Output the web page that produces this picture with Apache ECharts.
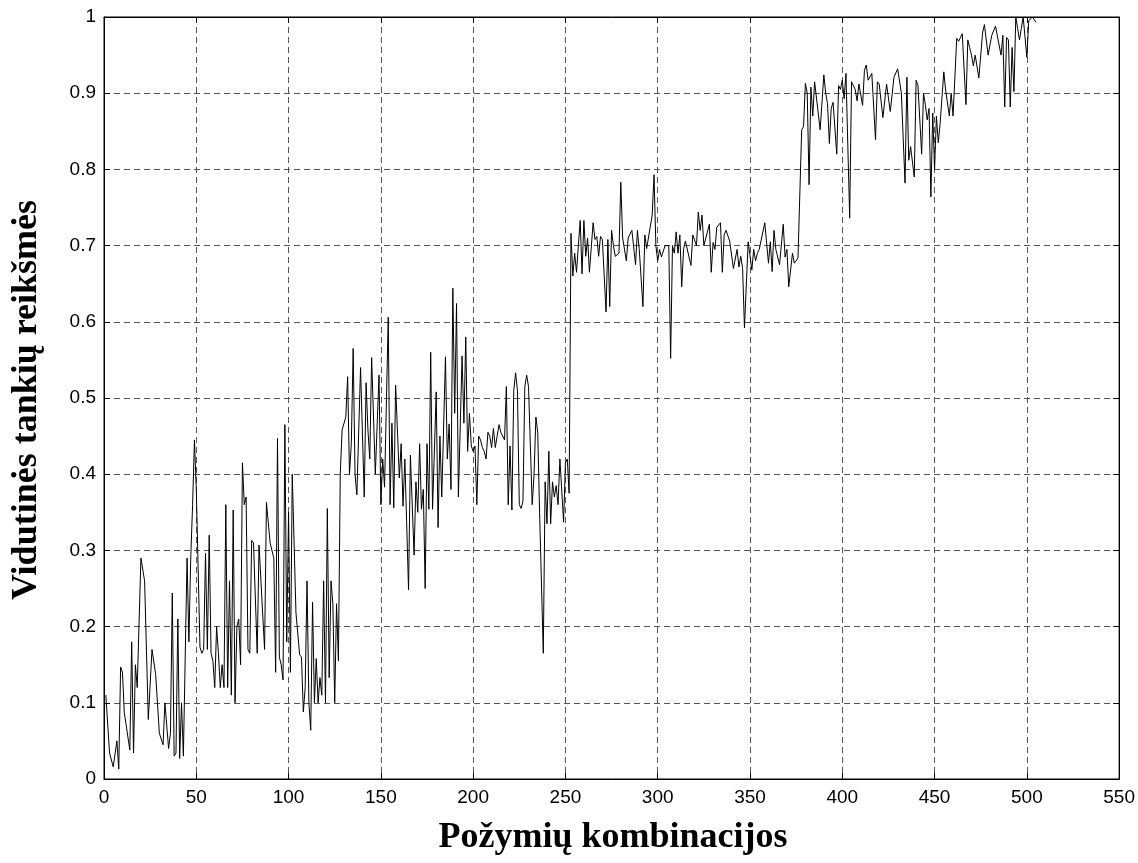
<!DOCTYPE html>
<html>
<head>
<meta charset="utf-8">
<script src="https://cdn.jsdelivr.net/npm/echarts@6/dist/echarts.min.js"></script>
<style>
html,body{margin:0;padding:0;background:#fff;}
#chart{width:1138px;height:863px;}
</style>
</head>
<body>
<div id="chart"></div>
<script>
// [combination index, mean density value]
var values0_100 = [[1,0.11],[3,0.034],[5,0.016],[7,0.05],[8,0.013],[9,0.147],[10,0.14],[11,0.087],[14,0.038],[15,0.18],[16,0.034],[17,0.15],[18,0.12],[20,0.29],[21,0.29],[22,0.26],[24,0.078],[26,0.17],[28,0.137],[30,0.06],[32,0.045],[33,0.10],[35,0.04],[36,0.06],[37,0.244],[38,0.03],[39,0.034],[40,0.21],[41,0.027],[42,0.1],[43,0.03],[45,0.29],[46,0.18],[47,0.29],[48,0.36],[49,0.445],[50,0.38],[52,0.173],[53,0.165],[54,0.17],[55,0.296],[56,0.17],[57,0.32],[58,0.165],[59,0.155],[60,0.12],[61,0.2],[62,0.165],[63,0.12],[64,0.15],[65,0.12],[66,0.36],[67,0.12],[68,0.26],[69,0.11],[70,0.353],[71,0.1],[72,0.2],[73,0.21],[74,0.15],[75,0.415],[76,0.36],[77,0.37],[78,0.17],[79,0.165],[80,0.313],[81,0.31],[83,0.165],[84,0.307],[85,0.307],[87,0.17],[88,0.363],[90,0.31],[91,0.31],[92,0.29],[93,0.14],[94,0.447],[95,0.16],[96,0.15],[97,0.13],[98,0.465],[99,0.18]];
var values100_200 = [[100,0.35],[101,0.14],[102,0.40],[104,0.218],[106,0.163],[107,0.16],[108,0.088],[109,0.12],[110,0.26],[111,0.1],[112,0.064],[113,0.232],[114,0.1],[115,0.158],[116,0.1],[117,0.133],[118,0.11],[119,0.26],[120,0.1],[121,0.355],[122,0.133],[123,0.26],[124,0.23],[125,0.1],[126,0.23],[127,0.155],[128,0.40],[129,0.458],[131,0.475],[132,0.528],[133,0.40],[134,0.44],[135,0.565],[136,0.40],[137,0.373],[139,0.54],[141,0.37],[142,0.52],[143,0.458],[144,0.42],[145,0.553],[147,0.40],[148,0.40],[149,0.53],[150,0.36],[151,0.42],[152,0.383],[154,0.606],[155,0.36],[156,0.467],[157,0.356],[158,0.517],[160,0.395],[161,0.44],[162,0.358],[163,0.42],[165,0.248],[166,0.425],[168,0.294],[169,0.39],[170,0.35],[171,0.44],[172,0.354],[173,0.38],[174,0.25],[175,0.44],[176,0.354],[177,0.56],[178,0.354],[180,0.508],[181,0.33],[182,0.45],[183,0.37],[185,0.554],[186,0.42],[187,0.466],[188,0.38],[189,0.644],[190,0.48],[191,0.624],[192,0.37],[194,0.555],[195,0.467],[196,0.58],[197,0.43],[198,0.48],[199,0.437]];
var values200_300 = [[200,0.43],[201,0.437],[202,0.36],[203,0.45],[204,0.445],[205,0.435],[206,0.43],[207,0.42],[208,0.455],[209,0.45],[210,0.435],[211,0.46],[212,0.435],[213,0.435],[214,0.465],[215,0.455],[217,0.445],[218,0.515],[219,0.36],[220,0.437],[221,0.353],[222,0.51],[223,0.533],[224,0.51],[225,0.36],[226,0.355],[227,0.365],[228,0.515],[229,0.53],[230,0.515],[232,0.36],[233,0.4],[234,0.475],[235,0.455],[236,0.35],[238,0.165],[239,0.39],[240,0.335],[241,0.43],[242,0.335],[243,0.39],[244,0.37],[245,0.385],[246,0.36],[247,0.42],[248,0.42],[249,0.337],[250,0.415],[251,0.42],[252,0.375],[253,0.716],[254,0.66],[255,0.69],[256,0.665],[257,0.70],[258,0.733],[259,0.663],[260,0.733],[261,0.686],[262,0.71],[263,0.665],[265,0.73],[266,0.708],[267,0.712],[268,0.686],[269,0.712],[270,0.708],[272,0.613],[273,0.708],[274,0.62],[275,0.72],[276,0.70],[277,0.686],[279,0.69],[280,0.783],[281,0.71],[283,0.68],[284,0.71],[286,0.72],[288,0.675],[289,0.72],[290,0.695],[292,0.62],[293,0.714],[294,0.696],[295,0.695],[297,0.74],[298,0.793],[299,0.70]];
var values300_400 = [[300,0.68],[301,0.695],[302,0.685],[304,0.70],[306,0.70],[307,0.552],[308,0.70],[309,0.69],[310,0.718],[311,0.69],[312,0.714],[313,0.646],[314,0.695],[315,0.706],[318,0.674],[319,0.714],[321,0.70],[322,0.744],[323,0.72],[324,0.74],[325,0.70],[328,0.728],[329,0.665],[330,0.704],[331,0.695],[332,0.724],[334,0.73],[335,0.665],[336,0.714],[337,0.72],[339,0.706],[341,0.67],[343,0.695],[344,0.672],[345,0.686],[346,0.67],[347,0.592],[349,0.705],[351,0.668],[352,0.695],[353,0.68],[354,0.69],[355,0.695],[358,0.73],[360,0.677],[361,0.705],[362,0.666],[363,0.72],[364,0.695],[366,0.675],[368,0.728],[369,0.685],[370,0.695],[371,0.646],[373,0.69],[374,0.677],[375,0.68],[376,0.684],[378,0.852],[379,0.856],[380,0.913],[381,0.9],[382,0.78],[383,0.908],[384,0.87],[385,0.915],[386,0.913],[388,0.852],[389,0.85],[390,0.924],[391,0.9],[392,0.886],[393,0.834],[394,0.88],[395,0.888],[397,0.82],[398,0.91],[399,0.905]];
var values400_505 = [[400,0.917],[401,0.893],[402,0.926],[403,0.928],[404,0.736],[405,0.915],[406,0.91],[407,0.905],[408,0.89],[409,0.912],[411,0.884],[412,0.93],[413,0.937],[414,0.917],[416,0.926],[418,0.839],[419,0.915],[420,0.912],[422,0.868],[424,0.912],[426,0.876],[428,0.921],[430,0.932],[432,0.9],[434,0.782],[435,0.921],[436,0.812],[437,0.83],[439,0.79],[440,0.917],[441,0.91],[443,0.82],[444,0.9],[445,0.885],[446,0.865],[447,0.88],[448,0.764],[449,0.874],[450,0.80],[451,0.87],[452,0.835],[453,0.86],[455,0.928],[456,0.904],[458,0.87],[459,0.9],[460,0.87],[462,0.972],[463,0.968],[465,0.978],[466,0.976],[467,0.885],[468,0.97],[469,0.96],[470,0.95],[471,0.936],[472,0.95],[473,0.95],[474,0.92],[475,0.92],[476,0.979],[477,0.99],[479,0.95],[481,0.976],[483,0.988],[486,0.95],[487,0.976],[488,0.882],[489,0.973],[490,0.97],[491,0.882],[492,0.96],[493,0.902],[494,1.0],[495,0.985],[496,0.97],[497,0.985],[498,1.0],[500,0.947],[501,0.995],[503,1.0],[505,0.993]];

var xTitle = 'Požymių kombinacijos';
var yTitle = 'Vidutinės tankių reikšmės';

var seriesData = [].concat(values0_100, values100_200, values200_300, values300_400, values400_505);

var chart = echarts.init(document.getElementById('chart'), null, {renderer: 'canvas'});
var labelFont = {color: '#000', fontSize: 19, fontFamily: 'Liberation Sans, Arial, sans-serif'};
var gridLine = {show: true, lineStyle: {color: '#555', width: 1, type: [6, 4]}};
var tick = {show: true, inside: true, length: 6, lineStyle: {color: '#000'}};
var titleFont = 'bold 36px "Liberation Serif", "Times New Roman", serif';
var option = {
  animation: false,
  backgroundColor: '#fff',
  grid: {left: 104, right: 15, top: 17, bottom: 84, show: true, borderColor: '#000', borderWidth: 1, backgroundColor: 'transparent'},
  xAxis: [
    {type: 'value', min: 0, max: 550, interval: 50, position: 'bottom',
     axisLine: {show: true, onZero: false, lineStyle: {color: '#000'}},
     axisTick: tick, splitLine: gridLine,
     axisLabel: Object.assign({margin: 9}, labelFont)},
    {type: 'value', min: 0, max: 550, interval: 50, position: 'top',
     axisLine: {show: true, onZero: false, lineStyle: {color: '#000'}},
     axisTick: tick, splitLine: {show: false}, axisLabel: {show: false}}
  ],
  yAxis: [
    {type: 'value', min: 0, max: 1, interval: 0.1, position: 'left',
     axisLine: {show: true, onZero: false, lineStyle: {color: '#000'}},
     axisTick: tick, splitLine: gridLine,
     axisLabel: Object.assign({margin: 8}, labelFont)},
    {type: 'value', min: 0, max: 1, interval: 0.1, position: 'right',
     axisLine: {show: true, onZero: false, lineStyle: {color: '#000'}},
     axisTick: tick, splitLine: {show: false}, axisLabel: {show: false}}
  ],
  graphic: [
    {type: 'text', x: 613, y: 838, style: {text: xTitle, font: titleFont, fill: '#000', textAlign: 'center', textVerticalAlign: 'middle'}},
    {type: 'text', x: 27, y: 400, rotation: Math.PI / 2, style: {text: yTitle, font: titleFont, fill: '#000', textAlign: 'center', textVerticalAlign: 'middle'}}
  ],
  series: [{
    type: 'line', data: seriesData, xAxisIndex: 0, yAxisIndex: 0,
    showSymbol: false, symbol: 'none', clip: true,
    lineStyle: {color: '#000', width: 1}
  }]
};
chart.setOption(option);
</script>
</body>
</html>
